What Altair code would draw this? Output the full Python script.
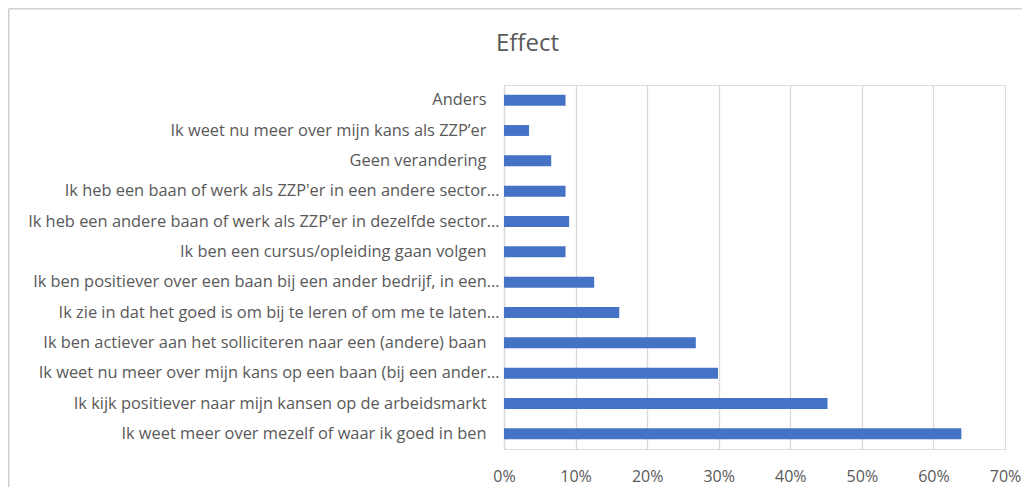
import altair as alt
import pandas as pd

categories = [
    "Anders",
    "Ik weet nu meer over mijn kans als ZZP’er",
    "Geen verandering",
    "Ik heb een baan of werk als ZZP'er in een andere sector…",
    "Ik heb een andere baan of werk als ZZP'er in dezelfde sector…",
    "Ik ben een cursus/opleiding gaan volgen",
    "Ik ben positiever over een baan bij een ander bedrijf, in een…",
    "Ik zie in dat het goed is om bij te leren of om me te laten…",
    "Ik ben actiever aan het solliciteren naar een (andere) baan",
    "Ik weet nu meer over mijn kans op een baan (bij een ander…",
    "Ik kijk positiever naar mijn kansen op de arbeidsmarkt",
    "Ik weet meer over mezelf of waar ik goed in ben",
]
values = [0.086, 0.035, 0.066, 0.086, 0.091, 0.086, 0.126, 0.161, 0.268, 0.299, 0.452, 0.639]
x_ticks = [0.0, 0.1, 0.2, 0.3, 0.4, 0.5, 0.6, 0.7]

df = pd.DataFrame({"cat": categories, "val": values})

FONT = "Open Sans"
GREY = "#595959"
GRID = "#d9d9d9"

bars = alt.Chart(df).mark_bar(color="#4472C4").encode(
    x=alt.X(
        "val:Q",
        scale=alt.Scale(domain=[0, 0.7], nice=False, zero=True),
        axis=alt.Axis(
            values=x_ticks, format=".0%", title=None, grid=True, gridColor=GRID,
            gridWidth=1.3, domain=False, ticks=False, labelFont=FONT, labelFontSize=16,
            labelColor=GREY, labelPadding=19, labelFlush=False,
        ),
    ),
    y=alt.Y(
        "cat:N",
        sort=None,
        scale=alt.Scale(paddingInner=0.64, paddingOuter=0.32),
        axis=alt.Axis(
            title=None, ticks=False, domain=True, domainColor=GRID, domainWidth=1.3,
            labelFont=FONT, labelFontSize=16.4, labelColor=GREY, labelLimit=0,
            labelPadding={"condition": {"test": "indexof(datum.label, '…') >= 0", "value": 5}, "value": 18},
        ),
    ),
)

one = pd.DataFrame({"a": [0]})
frame_top = alt.Chart(one).mark_rule(color="#d0d0d0", strokeWidth=1.5).encode(
    x=alt.value(-495.25), x2=alt.value(540), y=alt.value(-76.25)
)
frame_left = alt.Chart(one).mark_rule(color="#d0d0d0", strokeWidth=1.5).encode(
    x=alt.value(-495.25), y=alt.value(-76.25), y2=alt.value(430)
)

chart = alt.layer(frame_top, frame_left, bars).properties(
    width=501,
    height=364,
    title=alt.TitleParams(
        "Effect", font=FONT, fontSize=24, fontWeight="normal", color=GREY,
        anchor="middle", dx=-227, offset=-48,
    ),
    autosize=alt.AutoSizeParams(type="none"),
    padding={"left": 496, "top": 77, "right": 17, "bottom": 38},
).configure_view(stroke=None).configure(background="white")

chart.save("out.html", embed_options={"renderer": "svg", "actions": False})
